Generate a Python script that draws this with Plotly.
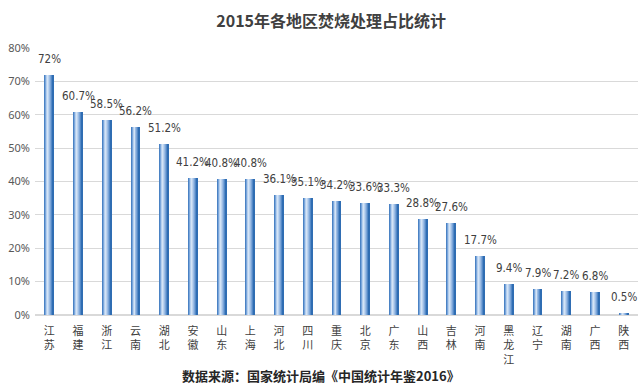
import plotly.graph_objects as go

regions = ["江苏", "福建", "浙江", "云南", "湖北", "安徽", "山东", "上海", "河北", "四川",
           "重庆", "北京", "广东", "山西", "吉林", "河南", "黑龙江", "辽宁", "湖南", "广西", "陕西"]
values = [72, 60.7, 58.5, 56.2, 51.2, 41.2, 40.8, 40.8, 36.1, 35.1,
          34.2, 33.6, 33.3, 28.8, 27.6, 17.7, 9.4, 7.9, 7.2, 6.8, 0.5]
value_labels = ["72%", "60.7%", "58.5%", "56.2%", "51.2%", "41.2%", "40.8%", "40.8%", "36.1%", "35.1%",
                "34.2%", "33.6%", "33.3%", "28.8%", "27.6%", "17.7%", "9.4%", "7.9%", "7.2%", "6.8%", "0.5%"]
vertical_ticks = ["<br>".join(list(r)) for r in regions]

title_text = "2015年各地区焚烧处理占比统计"
source_text = "数据来源：国家统计局编《中国统计年鉴2016》"

# horizontal gradient across each bar, emulated with thin overlaid slices
stripe_colors = ["#4a82c4", "#7aa6db", "#b5cfee", "#d4e4f6", "#bcd3ef",
                 "#9dbde5", "#7ba5d8", "#5489c7", "#2f6db3"]
bar_width = 0.31
n = len(stripe_colors)
slice_w = bar_width / n

fig = go.Figure()
for i, c in enumerate(stripe_colors):
    fig.add_trace(go.Bar(
        x=regions, y=values,
        width=[slice_w * 1.15] * len(regions),
        offset=[-bar_width / 2 + i * slice_w] * len(regions),
        marker=dict(color=c, line=dict(width=0)),
        hoverinfo="skip", showlegend=False,
    ))

label_font = dict(size=11.5, color="#404040", family="Liberation Sans Narrow, DejaVu Sans Condensed, Noto Sans")
for r, v, t in zip(regions, values, value_labels):
    fig.add_annotation(x=r, y=v, text=t, showarrow=False, yanchor="bottom", yshift=7, font=label_font)

fig.add_annotation(x=0.474, xref="paper", y=-0.228, yref="paper", text="<b>" + source_text + "</b>",
                   showarrow=False, yanchor="middle",
                   font=dict(size=13, color="#262626", family="Noto Sans CJK SC"))

fig.update_layout(
    width=643, height=392,
    barmode="overlay",
    bargap=0,
    hovermode=False,
    paper_bgcolor="white", plot_bgcolor="white",
    margin=dict(l=35, r=5, t=48, b=77),
    title=dict(text="<b>" + title_text + "</b>", x=0.515, xanchor="center", y=0.945, yanchor="middle",
               font=dict(size=16, color="#404040", family="Noto Sans CJK SC")),
    xaxis=dict(tickvals=regions, ticktext=vertical_ticks, range=[-0.5, 20.5],
               showgrid=False, zeroline=False, showline=False, ticks="", tickangle=0,
               ticklabelstandoff=8,
               tickfont=dict(size=11, color="#404040", family="Noto Sans CJK SC")),
    yaxis=dict(range=[0, 80], dtick=10, ticksuffix="%", showgrid=True, gridcolor="#d9d9d9",
               gridwidth=1, zeroline=True, zerolinecolor="#d9d9d9", showline=False,
               tickfont=dict(size=11, color="#595959", family="Noto Sans"), ticklabelstandoff=4),
)

fig.write_html("out.html", config={"displayModeBar": False},
               post_script="document.body.style.margin='0';")
